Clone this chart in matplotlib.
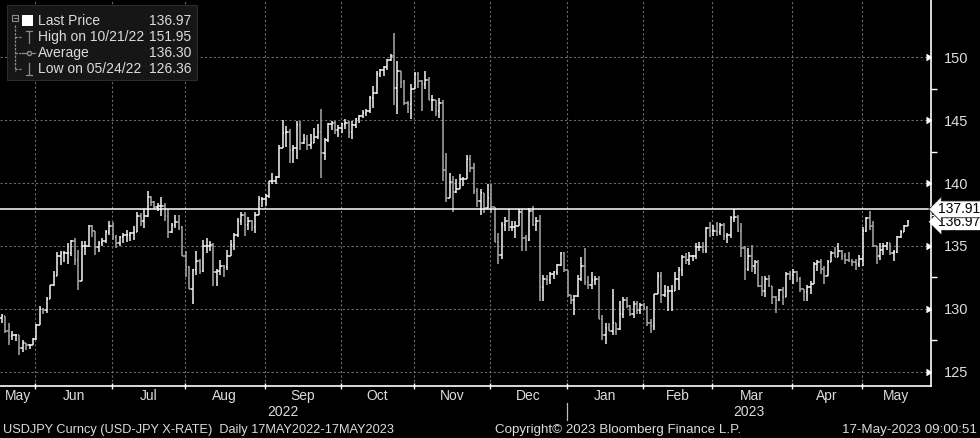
import numpy as np
import pandas as pd
import matplotlib
matplotlib.use("Agg")
import matplotlib.pyplot as plt
from matplotlib.patches import Rectangle
from matplotlib.lines import Line2D

# daily USDJPY bars, 17 May 2022 .. 17 May 2023 (one row per week)
dates = pd.bdate_range("2022-05-17", "2023-05-17")
first_open = 129.3

high = [
    129.6, 129.4, 128.9, 128.2,
    128.0, 127.9, 127.5, 127.3, 127.2,
    127.7, 128.8, 130.2, 130.1, 130.9,
    131.9, 133.0, 134.5, 134.6, 134.6,
    135.2, 135.5, 135.6, 134.7, 135.4,
    135.4, 136.7, 136.7, 136.0, 135.4,
    135.6, 136.3, 137.0, 136.9, 135.9,
    135.8, 136.0, 136.3, 136.1, 136.6,
    137.7, 137.6, 137.9, 139.4, 139.0,
    138.6, 138.4, 138.9, 138.4, 137.9,
    136.8, 137.5, 137.5, 136.6, 134.6,
    133.4, 133.2, 134.6, 134.0, 135.5,
    135.6, 135.4, 135.2, 133.2, 133.9,
    133.5, 134.7, 135.5, 136.0, 137.2,
    137.7, 137.7, 137.3, 137.1, 137.7,
    139.0, 138.9, 139.1, 140.2, 140.8,
    140.6, 143.0, 145.0, 144.5, 144.3,
    143.0, 144.9, 144.9, 143.9, 143.8,
    143.9, 144.4, 144.7, 145.9, 143.6,
    144.8, 144.9, 144.9, 144.6, 144.8,
    145.1, 144.9, 144.9, 145.2, 145.4,
    145.8, 145.9, 146.9, 147.7, 148.9,
    149.1, 149.3, 149.9, 150.3, 151.95,
    149.7, 148.9, 148.2, 146.5, 147.9,
    148.8, 148.8, 148.2, 148.9, 148.4,
    147.0, 146.5, 146.8, 146.6, 142.4,
    140.8, 140.6, 140.3, 140.7, 140.5,
    142.2, 142.2, 141.6, 139.6, 139.5,
    139.2, 139.9, 139.9, 138.1, 136.0,
    136.9, 137.3, 137.9, 137.0, 137.0,
    137.9, 137.9, 135.9, 138.0, 138.2,
    137.3, 137.5, 132.7, 132.7, 132.9,
    133.0, 133.6, 134.5, 134.5, 133.1,
    131.1, 131.1, 132.7, 134.1, 134.8,
    132.6, 132.9, 132.6, 132.6, 129.5,
    128.9, 128.9, 131.6, 128.9, 130.6,
    130.9, 130.9, 130.3, 130.6, 130.6,
    130.5, 130.5, 130.2, 129.2, 131.2,
    132.9, 132.9, 131.9, 131.8, 131.9,
    132.9, 133.3, 134.3, 134.4, 134.5,
    134.3, 135.2, 135.3, 135.3, 136.5,
    136.9, 136.7, 136.9, 136.8, 136.8,
    136.0, 137.4, 137.9, 137.5, 136.8,
    135.0, 134.8, 135.1, 133.9, 133.9,
    132.6, 132.6, 132.7, 131.4, 131.0,
    131.6, 131.7, 132.9, 133.0, 133.2,
    133.0, 132.5, 131.6, 131.9, 132.2,
    133.7, 133.9, 134.0, 133.4, 133.9,
    134.6, 134.9, 135.2, 134.7, 134.4,
    134.5, 134.0, 134.0, 134.3, 136.5,
    137.3, 137.8, 137.0, 135.0, 135.2,
    135.2, 135.3, 135.0, 134.7, 135.8,
    136.3, 136.7, 137.1,
]

low = [
    128.9, 128.1, 127.1, 127.5,
    127.4, 126.36, 126.6, 126.7, 126.8,
    127.1, 127.5, 128.7, 129.6, 129.7,
    130.8, 131.8, 132.6, 133.5, 133.7,
    133.6, 134.2, 133.5, 131.5, 132.4,
    134.3, 134.9, 135.7, 134.3, 134.5,
    135.0, 135.2, 135.9, 135.5, 134.8,
    135.0, 135.2, 135.3, 135.4, 135.5,
    136.1, 136.6, 136.4, 137.3, 138.2,
    137.9, 137.8, 137.4, 137.0, 135.6,
    136.0, 136.4, 136.3, 134.2, 132.5,
    131.6, 130.4, 132.7, 132.8, 132.9,
    134.4, 134.6, 131.8, 131.8, 132.7,
    132.5, 133.1, 134.2, 134.7, 135.7,
    136.7, 135.8, 136.3, 136.2, 136.0,
    137.8, 138.1, 138.2, 138.8, 139.9,
    139.9, 140.4, 142.8, 142.9, 141.6,
    141.6, 141.9, 142.6, 143.1, 142.6,
    142.7, 143.3, 143.5, 140.4, 141.8,
    143.3, 144.2, 143.9, 143.7, 144.0,
    144.3, 143.6, 143.5, 144.4, 144.8,
    145.2, 145.3, 145.6, 146.0, 147.1,
    148.4, 148.5, 149.0, 149.7, 146.2,
    145.5, 147.6, 146.2, 145.6, 145.1,
    147.5, 147.6, 145.7, 147.5, 146.6,
    145.7, 145.3, 145.2, 140.2, 138.5,
    138.8, 137.7, 139.2, 139.6, 139.8,
    140.4, 140.9, 139.1, 138.1, 137.5,
    137.6, 138.0, 137.6, 135.3, 133.6,
    134.0, 136.2, 136.2, 136.2, 135.6,
    136.6, 134.6, 134.6, 135.4, 136.6,
    136.2, 130.6, 130.6, 131.9, 132.0,
    132.4, 132.7, 133.4, 132.9, 130.9,
    130.4, 129.5, 130.9, 132.2, 131.9,
    131.6, 131.6, 131.9, 129.2, 127.5,
    127.2, 128.2, 127.9, 127.9, 128.3,
    129.3, 130.1, 129.4, 129.3, 129.6,
    129.6, 129.9, 128.6, 128.1, 128.3,
    131.2, 130.5, 130.9, 129.8, 129.8,
    131.6, 131.5, 132.6, 133.6, 133.5,
    133.8, 134.0, 134.6, 134.4, 134.4,
    135.7, 135.8, 135.8, 135.9, 135.5,
    135.2, 135.6, 136.9, 136.1, 134.1,
    132.3, 133.0, 132.9, 132.8, 131.7,
    131.0, 130.9, 131.7, 130.4, 129.7,
    130.6, 130.3, 130.9, 132.3, 132.0,
    132.1, 131.3, 130.6, 130.6, 131.2,
    132.4, 133.0, 132.8, 132.0, 133.0,
    133.7, 134.1, 134.2, 133.9, 133.6,
    133.7, 133.4, 133.1, 133.3, 133.4,
    136.1, 136.3, 134.9, 133.6, 133.9,
    134.3, 134.7, 134.3, 133.8, 134.4,
    135.6, 136.1, 136.6,
]

close = [
    129.4, 128.2, 127.8, 127.9,
    127.9, 126.9, 127.3, 127.1, 127.1,
    127.6, 128.7, 130.0, 129.9, 130.8,
    131.9, 132.6, 134.2, 134.4, 134.4,
    134.4, 135.4, 133.9, 132.2, 135.0,
    135.0, 136.6, 136.2, 134.9, 135.2,
    135.4, 136.1, 136.6, 135.7, 135.2,
    135.7, 135.9, 135.9, 136.0, 136.1,
    137.4, 137.0, 137.4, 138.9, 138.5,
    138.1, 138.2, 138.2, 137.4, 136.1,
    136.7, 136.9, 136.5, 134.2, 133.3,
    131.6, 133.1, 133.8, 133.0, 135.0,
    135.0, 135.1, 132.9, 133.0, 133.4,
    133.3, 134.2, 135.1, 135.9, 137.0,
    137.5, 136.7, 137.0, 136.5, 137.5,
    138.7, 138.7, 139.0, 140.2, 140.2,
    140.5, 142.8, 144.0, 144.1, 142.6,
    142.8, 144.6, 143.2, 143.5, 143.0,
    143.2, 143.7, 144.1, 142.4, 143.4,
    144.7, 144.8, 144.2, 144.4, 144.7,
    144.8, 144.1, 144.6, 145.1, 145.3,
    145.6, 145.7, 146.8, 147.2, 148.7,
    149.0, 149.2, 149.8, 150.1, 147.6,
    148.9, 148.0, 146.4, 146.3, 147.5,
    148.7, 148.1, 147.9, 148.2, 146.6,
    146.6, 145.7, 146.4, 141.0, 138.8,
    140.1, 139.3, 139.5, 140.3, 140.3,
    141.9, 141.2, 139.4, 138.6, 139.2,
    138.0, 138.8, 138.1, 135.3, 134.3,
    136.7, 137.0, 136.5, 136.5, 136.6,
    137.7, 135.6, 135.5, 137.8, 136.7,
    137.0, 131.7, 132.4, 132.3, 132.8,
    132.9, 133.5, 134.4, 133.1, 131.1,
    130.7, 131.0, 132.4, 133.4, 132.1,
    131.9, 132.3, 132.4, 129.2, 127.9,
    128.5, 128.2, 128.9, 128.4, 129.6,
    130.7, 130.2, 129.6, 130.4, 129.9,
    130.3, 130.1, 128.9, 128.6, 131.2,
    132.6, 131.1, 131.4, 131.4, 131.4,
    132.4, 133.1, 134.1, 133.9, 134.2,
    134.2, 134.9, 134.9, 134.7, 136.4,
    136.2, 136.2, 136.1, 136.7, 135.8,
    135.9, 137.2, 137.3, 136.2, 134.8,
    133.2, 134.2, 133.4, 133.7, 131.8,
    131.4, 132.4, 131.8, 130.9, 130.7,
    131.5, 130.9, 132.8, 132.7, 132.9,
    132.4, 131.6, 131.3, 131.7, 132.0,
    133.6, 133.7, 133.2, 132.6, 133.7,
    134.4, 134.1, 134.6, 134.2, 133.9,
    133.8, 133.7, 133.6, 134.0, 136.2,
    137.2, 136.6, 135.0, 134.2, 134.7,
    135.0, 135.2, 134.4, 134.5, 135.7,
    136.1, 136.6, 136.97,
]

ref_line = 137.91
last_price = 136.97
legend_rows = [("Last Price", "136.97"), ("High on 10/21/22", "151.95"),
               ("Average", "136.30"), ("Low on 05/24/22", "126.36")]
y_ticks = [125, 130, 135, 140, 145, 150]
footer_left = "USDJPY Curncy (USD-JPY X-RATE)  Daily 17MAY2022-17MAY2023"
footer_mid = "Copyright\u00a9 2023 Bloomberg Finance L.P."
footer_right = "17-May-2023 09:00:51"

W, H = 980, 438
TXT = "#dcdcdc"
GRID = "#6a6a6a"
FS = 10
plt.rcParams["font.family"] = ["Liberation Sans", "DejaVu Sans"]


def fx(x):
    return x / W


def fy(y):
    return 1 - y / H


fig = plt.figure(figsize=(W / 100, H / 100), dpi=100, facecolor="black")
ax = fig.add_axes([0, (H - 386) / H, 931 / W, 386 / H])
ax.set_facecolor("black")

n = len(close)
x = np.arange(n)
c = np.array(close)
o = np.concatenate([[first_open], c[:-1]])
hi = np.maximum(np.array(high), np.maximum(o, c))
lo = np.minimum(np.array(low), np.minimum(o, c))
col = np.where(c >= o, "#f2f2f2", "#a9a9a9")

ax.vlines(x, lo, hi, colors=col, lw=1.1, zorder=3)
ax.hlines(o, x - 0.45, x, colors=col, lw=1.1, zorder=3)
ax.hlines(c, x, x + 0.45, colors=col, lw=1.1, zorder=3)

x_left, x_right = -0.5, 267.7
ax.set_xlim(x_left, x_right)
ax.set_ylim(123.86, 154.56)

# month boundaries
months = dates.to_period("M")
starts = [i for i in range(1, n) if months[i] != months[i - 1]]
bounds = [s - 1.3 for s in starts]
for b in bounds:
    ax.axvline(b, color=GRID, lw=0.8, ls=(0, (2, 2)), zorder=1)
for yt in y_ticks:
    ax.axhline(yt, color=GRID, lw=0.8, ls=(0, (2, 2)), zorder=1)

ax.axhline(ref_line, color="white", lw=1.1, zorder=4)

for s in ["left", "top"]:
    ax.spines[s].set_visible(False)
for s in ["right", "bottom"]:
    ax.spines[s].set_color("white")
    ax.spines[s].set_linewidth(1.2)

ax.set_xticks(bounds)
ax.set_xticklabels([])
ax.tick_params(axis="x", colors="white", length=5, direction="inout", width=1)

ax.yaxis.tick_right()
ax.set_yticks(y_ticks)
ax.set_yticks([v + 2.5 for v in y_ticks[:-1]], minor=True)
ax.tick_params(axis="y", which="major", length=0, pad=9, labelsize=10.5, labelcolor=TXT)
ax.tick_params(axis="y", which="minor", length=4, width=1, color="white", direction="out")
ax.plot(np.ones(len(y_ticks)), y_ticks, transform=ax.get_yaxis_transform(), ls="none",
        marker=5, ms=5, color="white", clip_on=False, zorder=5)

# price labels on the right axis
ytr = ax.get_yaxis_transform()
ax.text(1.007, last_price - 0.05, "136.97", transform=ytr, ha="left", va="center",
        fontsize=FS, color="black", clip_on=False, zorder=6,
        bbox=dict(boxstyle="larrow,pad=0.1", fc="white", ec="none"))
ax.text(1.007, ref_line, "137.91", transform=ytr, ha="left", va="center", fontsize=FS,
        color="black", clip_on=False, zorder=7,
        bbox=dict(boxstyle="larrow,pad=0.1", fc="white", ec="#222222", lw=0.6))

# month / year labels
edges = [x_left] + bounds + [x_right]
names = [dates[0].strftime("%b")] + [dates[s].strftime("%b") for s in starts]
xt = ax.get_xaxis_transform()
for k, name in enumerate(names):
    ax.text((edges[k] + edges[k + 1]) / 2, -10 / 386, name, transform=xt, ha="center",
            va="center", fontsize=FS, color=TXT, clip_on=False)
jan = bounds[[dates[s].month for s in starts].index(1)]
ax.text((x_left + jan) / 2, -26 / 386, "2022", transform=xt, ha="center", va="center",
        fontsize=FS, color=TXT, clip_on=False)
ax.text((jan + x_right) / 2, -26 / 386, "2023", transform=xt, ha="center", va="center",
        fontsize=FS, color=TXT, clip_on=False)
ax.add_line(Line2D([jan, jan], [-17 / 386, -34 / 386], transform=xt, color="#bbbbbb",
                   lw=0.9, clip_on=False))

# footer
fig.text(fx(3), fy(430), footer_left, ha="left", va="center", fontsize=9.2, color=TXT)
fig.text(fx(495), fy(430), footer_mid, ha="left", va="center", fontsize=9.6, color=TXT)
fig.text(fx(977), fy(430), footer_right, ha="right", va="center", fontsize=9.6, color=TXT)

# legend box
fig.add_artist(Rectangle((fx(7), fy(80)), 190 / W, 75 / H, transform=fig.transFigure,
                         fc="#161616", ec="#2c2c2c", lw=0.8, zorder=8))
rows_y = [21, 37, 53, 69]
for (label, val), yy in zip(legend_rows, rows_y):
    fig.text(fx(38), fy(yy), label, ha="left", va="center", fontsize=FS, color=TXT, zorder=9)
    fig.text(fx(191), fy(yy), val, ha="right", va="center", fontsize=FS, color=TXT, zorder=9)

icon = "#8c8c8c"
tf = fig.transFigure
lines = [
    ([15, 15], [25, 71]),
    ([15, 21], [37, 37]), ([15, 21], [53, 53]), ([15, 21], [69, 69]),
    ([29, 29], [31, 43]), ([26, 32], [31, 31]),
    ([22, 35], [53, 53]),
    ([29, 29], [63, 75]), ([26, 32], [75, 75]),
]
for xs, ys in lines:
    fig.add_artist(Line2D([fx(v) for v in xs], [fy(v) for v in ys], transform=tf,
                          color=icon, lw=0.9, ls=(0, (2, 1)) if xs[0] == 15 else "-", zorder=9))
fig.add_artist(Line2D([fx(29)], [fy(53)], transform=tf, marker="o", ms=3, mfc="#161616",
                      mec=icon, ls="none", zorder=10))
fig.add_artist(Rectangle((fx(12), fy(21)), 6 / W, 6 / H, transform=tf, fc="#161616",
                         ec=icon, lw=0.8, zorder=10))
fig.add_artist(Line2D([fx(13.5), fx(16.5)], [fy(18), fy(18)], transform=tf, color=icon,
                      lw=0.8, zorder=11))
fig.add_artist(Rectangle((fx(22), fy(26)), 11 / W, 11 / H, transform=tf, fc="white",
                         ec="none", zorder=10))

fig.savefig("out.png", dpi=100, facecolor="black")
